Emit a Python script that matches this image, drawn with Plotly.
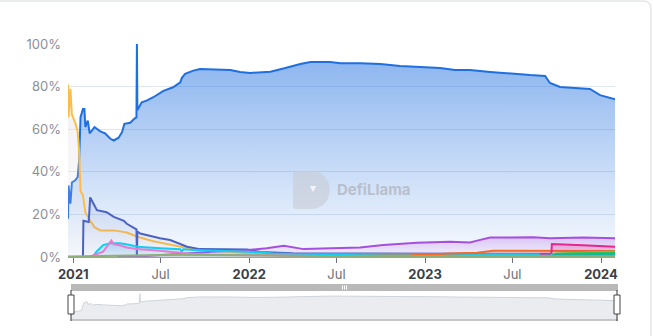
import plotly.graph_objects as go

# ---------------- data (dominance %) ----------------
BLUE_DATES = ["2020-12-21", "2020-12-22", "2020-12-26", "2020-12-29", "2021-01-05", "2021-01-10",
              "2021-01-13", "2021-01-16", "2021-01-21", "2021-01-24", "2021-01-26", "2021-01-31",
              "2021-02-04", "2021-02-07", "2021-02-14", "2021-02-26", "2021-03-08", "2021-03-19",
              "2021-03-26", "2021-04-05", "2021-04-12", "2021-04-17", "2021-04-29", "2021-05-08",
              "2021-05-12", "2021-05-13", "2021-05-14", "2021-05-23", "2021-06-02", "2021-06-16",
              "2021-07-07", "2021-07-27", "2021-08-11", "2021-08-14", "2021-08-21", "2021-09-07",
              "2021-09-21", "2021-11-23", "2021-12-13", "2022-01-03", "2022-02-14", "2022-03-17",
              "2022-04-17", "2022-05-08", "2022-06-18", "2022-07-09", "2022-08-19", "2022-09-30",
              "2022-11-10", "2022-12-22", "2023-02-01", "2023-03-04", "2023-04-04", "2023-05-16",
              "2023-06-26", "2023-08-07", "2023-09-07", "2023-09-17", "2023-10-08", "2023-11-08",
              "2023-12-09", "2023-12-30", "2024-01-30"]
BLUE_VALUES = [18, 33.6, 25, 35, 36, 37.5, 45, 65.6, 69.5, 69.5, 61, 64, 58, 59, 61, 59, 58, 55.5,
               54.7, 56, 58.6, 62.5, 63, 65, 65.5, 100, 69, 72.6, 73.4, 75, 78, 79.7, 82, 84, 86,
               87.5, 88.3, 87.8, 86.9, 86.4, 87, 88.7, 90.6, 91.5, 91.5, 91, 91, 90.6, 89.7, 89.2,
               88.7, 87.8, 87.8, 86.9, 86, 85.4, 85, 81.7, 79.8, 79.3, 78.9, 76, 74]

YELLOW_DATES = ["2020-12-21", "2020-12-22", "2020-12-26", "2020-12-29", "2021-01-05", "2021-01-10",
                "2021-01-13", "2021-01-16", "2021-01-21", "2021-01-26", "2021-02-02", "2021-02-14",
                "2021-02-26", "2021-03-26", "2021-04-22", "2021-05-14", "2021-06-16", "2021-07-27",
                "2021-08-25", "2021-09-28", "2021-11-16", "2021-12-28", "2022-02-20", "2022-04-17",
                "2022-08-01", "2024-01-30"]
YELLOW_VALUES = [81, 65.6, 79, 67, 63, 59, 50, 31, 29, 21, 18, 14, 12.5, 12.5, 11.5, 9.5, 7.4, 5.6,
                 4.2, 3.3, 2.5, 2.0, 0.9, 0.4, 0.3, 0.2]

SLATE_DATES = ["2021-01-21", "2021-01-22", "2021-02-02", "2021-02-05", "2021-02-10", "2021-02-19",
               "2021-03-11", "2021-03-26", "2021-04-16", "2021-04-22", "2021-05-12", "2021-05-13",
               "2021-05-14", "2021-05-20", "2021-06-30", "2021-07-21", "2021-08-25", "2021-09-07",
               "2021-09-21", "2021-12-28", "2022-01-24", "2022-04-02", "2022-08-19", "2023-08-28",
               "2023-09-01", "2024-01-30"]
SLATE_VALUES = [0, 17, 16.4, 28, 25.8, 22, 21, 18.8, 17, 15.6, 13, 0, 12, 11, 8.8, 8, 4.8, 4.2,
                3.7, 3.5, 2.3, 1.8, 1.6, 1.5, 0.4, 0.3]

PURPLE_DATES = ["2021-04-01", "2021-06-01", "2021-08-15", "2021-10-15", "2021-12-24", "2022-02-06",
                "2022-03-14", "2022-03-25", "2022-04-24", "2022-06-01", "2022-08-19", "2022-10-06",
                "2022-11-10", "2022-12-15", "2023-02-22", "2023-04-04", "2023-04-19", "2023-05-01",
                "2023-05-16", "2023-06-26", "2023-08-13", "2023-09-17", "2023-11-25", "2024-01-30"]
PURPLE_VALUES = [0, 0.5, 1.5, 2.5, 3.2, 4.1, 5.3, 4.8, 3.7, 4.0, 4.5, 5.6, 6.2, 6.7, 7.2, 6.8, 7.7,
                 8.3, 9.1, 9.2, 9.3, 8.8, 9.1, 8.8]

CYAN_DATES = ["2021-02-05", "2021-02-12", "2021-02-18", "2021-03-04", "2021-03-19", "2021-04-08",
              "2021-04-29", "2021-05-14", "2021-06-30", "2021-08-11", "2021-08-14", "2021-08-17",
              "2021-09-07", "2021-11-16", "2021-12-28", "2022-02-20", "2022-04-02", "2023-09-17",
              "2023-09-20", "2024-01-30"]
CYAN_VALUES = [0, 0.5, 2.5, 5.6, 6.4, 6.4, 5.6, 4.8, 4.1, 3.6, 2.5, 3.6, 3.3, 2.9, 2.5, 1.7, 1.4,
               1.2, 0.3, 0.3]

PINK_DATES = ["2021-02-02", "2021-02-14", "2021-03-04", "2021-03-14", "2021-03-21", "2021-03-26",
              "2021-04-05", "2021-04-22", "2021-05-13", "2021-06-30", "2021-08-25", "2021-10-12",
              "2021-12-28", "2022-06-01", "2024-01-30"]
PINK_VALUES = [0, 0.9, 2.5, 5.6, 7.7, 6.0, 5.6, 4.5, 3.8, 2.9, 1.7, 1.2, 0.8, 0.5, 0.3]

ORANGE_DATES = ["2022-06-01", "2022-12-01", "2023-02-22", "2023-04-19", "2023-05-22", "2023-09-17",
                "2024-01-30"]
ORANGE_VALUES = [0.3, 0.8, 1.6, 2.0, 2.9, 2.8, 2.8]

MAGENTA_DATES = ["2023-08-28", "2023-09-20", "2023-09-21", "2023-10-08", "2023-11-25", "2024-01-30"]
MAGENTA_VALUES = [1.5, 1.7, 6.1, 6.0, 5.5, 4.8]

OLIVE_DATES = ["2023-09-21", "2023-12-01", "2024-01-30"]
OLIVE_VALUES = [1.5, 2.2, 2.6]

GREEN_DATES = ["2023-09-21", "2023-10-01", "2024-01-30"]
GREEN_VALUES = [0.5, 1.5, 2.0]

TEAL_DATES = ["2023-09-21", "2024-01-30"]
TEAL_VALUES = [1.0, 1.3]

BASE_DATES = ["2020-12-21", "2021-05-01", "2021-08-01", "2022-01-01", "2022-06-01", "2024-01-30"]
BASE_VALUES = [0.2, 0.5, 1.0, 0.8, 0.5, 0.4]

X_TICKS = ["2021-01-01", "2021-07-01", "2022-01-01", "2022-07-01", "2023-01-01", "2023-07-01", "2024-01-01"]
X_TICK_TEXT = ["2021", "Jul", "2022", "Jul", "2023", "Jul", "2024"]
Y_TICKS = [0, 20, 40, 60, 80, 100]
Y_TICK_TEXT = [f"{v}%" for v in Y_TICKS]

X_RANGE = ["2020-12-21", "2024-01-30"]

# ---------------- layout geometry ----------------
W, H = 653, 336
ML, MR, MT, MB = 68, 35, 44, 15
PW, PH = W - ML - MR, H - MT - MB


def px(x, y):
    return (x - ML) / PW, (H - MB - y) / PH


fig = go.Figure()

series = [
    (BLUE_DATES, BLUE_VALUES, "#1f6fe0", "rgba(31,111,224,0.03)", "rgba(31,111,224,0.55)"),
    (YELLOW_DATES, YELLOW_VALUES, "#fbbd48", "rgba(215,215,220,0.05)", "rgba(215,215,220,0.35)"),
    (SLATE_DATES, SLATE_VALUES, "#4b62c4", "rgba(120,135,200,0.03)", "rgba(120,135,200,0.18)"),
    (PURPLE_DATES, PURPLE_VALUES, "#a64fdf", "rgba(166,79,223,0.05)", "rgba(166,79,223,0.28)"),
    (CYAN_DATES, CYAN_VALUES, "#14cdf3", "rgba(20,205,243,0.08)", "rgba(20,205,243,0.30)"),
    (PINK_DATES, PINK_VALUES, "#e87bcf", "rgba(232,123,207,0.05)", "rgba(232,123,207,0.20)"),
    (ORANGE_DATES, ORANGE_VALUES, "#f36a24", "rgba(243,106,36,0.05)", "rgba(243,106,36,0.15)"),
    (MAGENTA_DATES, MAGENTA_VALUES, "#e3288e", "rgba(227,40,142,0.08)", "rgba(227,40,142,0.30)"),
    (OLIVE_DATES, OLIVE_VALUES, "#9cbf2c", "rgba(156,191,44,0.1)", "rgba(156,191,44,0.3)"),
    (GREEN_DATES, GREEN_VALUES, "#1fc35a", "rgba(31,195,90,0.1)", "rgba(31,195,90,0.3)"),
    (TEAL_DATES, TEAL_VALUES, "#17b3a3", "rgba(23,179,163,0.1)", "rgba(23,179,163,0.3)"),
    (BASE_DATES, BASE_VALUES, "#8fae78", "rgba(143,174,120,0.2)", "rgba(143,174,120,0.4)"),
]

for d, v, c, c0, c1 in series:
    fig.add_trace(go.Scatter(
        x=d, y=v, mode="lines", line=dict(color=c, width=2),
        fill="tozeroy",
        fillgradient=dict(type="vertical", colorscale=[[0, c0], [1, c1]]),
        hoverinfo="skip", showlegend=False, xaxis="x", yaxis="y",
    ))

# mini overview chart for the data-zoom slider
fig.add_trace(go.Scatter(
    x=BLUE_DATES, y=BLUE_VALUES, mode="lines", line=dict(color="#cfd4dc", width=1),
    fill="tozeroy", fillcolor="#ebecef", hoverinfo="skip", showlegend=False,
    xaxis="x2", yaxis="y2",
))

y0 = px(0, 257)[1]
fig.update_layout(
    width=W, height=H,
    margin=dict(l=ML, r=MR, t=MT, b=MB, autoexpand=False),
    paper_bgcolor="white", plot_bgcolor="rgba(0,0,0,0)",
    font=dict(family="Inter, Open Sans, sans-serif", size=13, color="#8a8f99"),
    xaxis=dict(
        domain=[0, (615 - ML) / PW], range=X_RANGE, type="date",
        tickvals=X_TICKS,
        ticktext=[f"<b><span style='color:#3d4047'>{t}</span></b>" if t != "Jul" else t for t in X_TICK_TEXT],
        tickfont=dict(size=13, color="#6b6f77"),
        showgrid=False, showline=True, linecolor="#9aa0a8", linewidth=1,
        ticks="outside", ticklen=5, tickcolor="#6e7079", zeroline=False,
        anchor="y", automargin=False,
    ),
    yaxis=dict(
        domain=[y0, 1], range=[0, 100], tickvals=Y_TICKS, ticktext=Y_TICK_TEXT,
        showgrid=True, gridcolor="#e0e6f1", gridwidth=1, zeroline=False,
        showline=False, ticks="", tickfont=dict(size=13, color="#8a8f99"),
        ticklabelstandoff=6, anchor="x", automargin=False,
    ),
    xaxis2=dict(domain=[(71 - ML) / PW, 1], range=X_RANGE, type="date", visible=False,
                anchor="y2", automargin=False),
    yaxis2=dict(domain=[0, px(0, 291)[1]], range=[0, 110], visible=False, anchor="x2",
                automargin=False),
)

shapes = []
ann = []

# card border with rounded top-right corner
a = px(-10, 1); b = px(643, 1); c = px(651, 1); d = px(651, 9); e = px(651, 345)
shapes.append(dict(type="path", xref="paper", yref="paper",
                   path=f"M {a[0]},{a[1]} L {b[0]},{b[1]} Q {c[0]},{c[1]} {d[0]},{d[1]} L {e[0]},{e[1]}",
                   line=dict(color="#e4e6ea", width=1.5)))

# slider top bar
p1 = px(71, 284); p2 = px(618, 291)
shapes.append(dict(type="rect", xref="paper", yref="paper", x0=p1[0], y0=p2[1], x1=p2[0], y1=p1[1],
                   fillcolor="#b9b9b9", line=dict(width=0), layer="above"))
# slider bottom line
q1 = px(71, 320); q2 = px(618, 320)
shapes.append(dict(type="line", xref="paper", yref="paper", x0=q1[0], y0=q1[1], x1=q2[0], y1=q2[1],
                   line=dict(color="#c6c6c6", width=2), layer="above"))
# grip marks on the bar
for gx in (342.5, 344.5, 346.5):
    g1 = px(gx, 285.5); g2 = px(gx, 289.5)
    shapes.append(dict(type="line", xref="paper", yref="paper", x0=g1[0], y0=g1[1], x1=g2[0], y1=g2[1],
                       line=dict(color="white", width=1), layer="above"))
# handles
for hx in (71, 617):
    l1 = px(hx, 290); l2 = px(hx, 321)
    shapes.append(dict(type="line", xref="paper", yref="paper", x0=l1[0], y0=l1[1], x1=l2[0], y1=l2[1],
                       line=dict(color="#333", width=1), layer="above"))
    r1 = px(hx - 3, 295); r2 = px(hx + 3, 314)
    shapes.append(dict(type="rect", xref="paper", yref="paper", x0=r1[0], y0=r2[1], x1=r2[0], y1=r1[1],
                       fillcolor="white", line=dict(color="#444", width=1), layer="above"))

# watermark logo (rounded "D")
pts = {
    "m": px(296, 171), "l1": px(311, 171), "c1": px(336, 171), "c2": px(336, 209), "e": px(311, 209),
    "b": px(296, 209), "qb": px(293, 209), "b2": px(293, 206), "t2": px(293, 174), "qt": px(293, 171),
}
path = (f"M {pts['m'][0]},{pts['m'][1]} L {pts['l1'][0]},{pts['l1'][1]} "
        f"C {pts['c1'][0]},{pts['c1'][1]} {pts['c2'][0]},{pts['c2'][1]} {pts['e'][0]},{pts['e'][1]} "
        f"L {pts['b'][0]},{pts['b'][1]} Q {pts['qb'][0]},{pts['qb'][1]} {pts['b2'][0]},{pts['b2'][1]} "
        f"L {pts['t2'][0]},{pts['t2'][1]} Q {pts['qt'][0]},{pts['qt'][1]} {pts['m'][0]},{pts['m'][1]} Z")
shapes.append(dict(type="path", xref="paper", yref="paper", path=path,
                   fillcolor="rgba(200,204,212,0.6)", line=dict(width=0), layer="above"))
hd = px(313, 187)
ann.append(dict(xref="paper", yref="paper", x=hd[0], y=hd[1], text="▾", showarrow=False,
                font=dict(size=12, color="rgba(255,255,255,0.8)")))
wt = px(335, 190)
ann.append(dict(xref="paper", yref="paper", x=wt[0], y=wt[1], xanchor="left", yanchor="middle",
                text="<b>DefiLlama</b>", showarrow=False,
                font=dict(family="Inter, sans-serif", size=15, color="rgba(175,180,190,0.75)")))

fig.update_layout(shapes=shapes, annotations=ann)
fig.write_html("out.html", config={"displayModeBar": False})
